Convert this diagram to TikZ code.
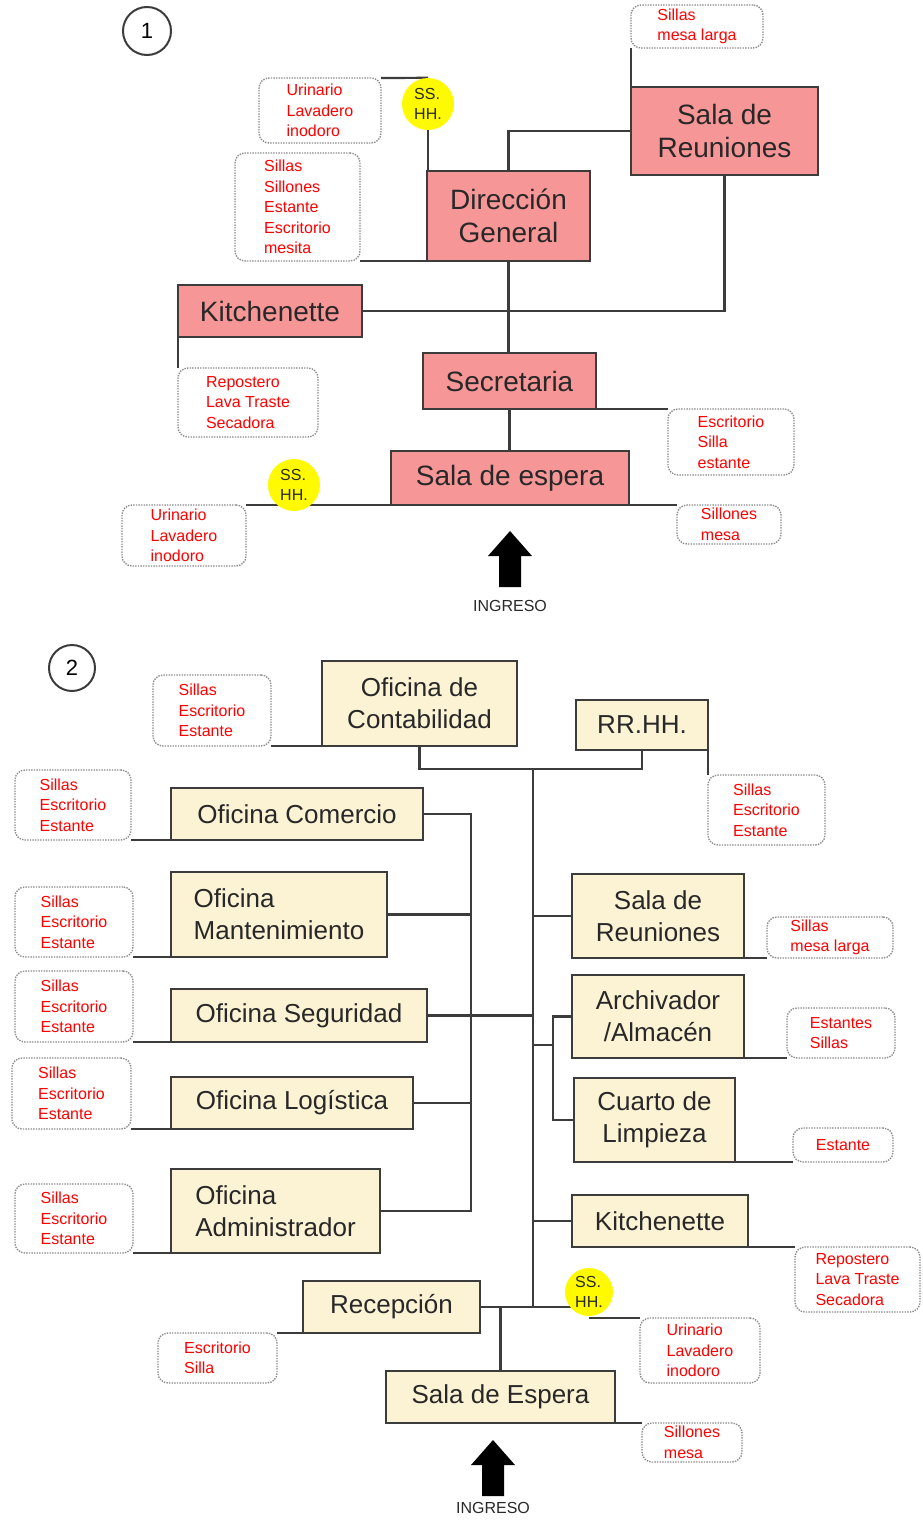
\documentclass[tikz,border=0pt]{standalone}
\usepackage{fontspec}
\setmainfont{Liberation Sans}
\usetikzlibrary{positioning,backgrounds}
\definecolor{rosa}{RGB}{246,150,150}
\definecolor{crema}{RGB}{252,242,212}
\definecolor{amarillo}{RGB}{255,250,0}
\definecolor{linea}{RGB}{60,60,60}
\definecolor{texto}{RGB}{40,40,40}

\begin{document}
\begin{tikzpicture}[x=1pt,y=-1pt]
            \tikzset{
                caja/.style={draw=linea, line width=2pt, anchor=north west, outer sep=0pt, inner sep=0pt, align=center, text=texto},
                sala/.style={caja, fill=rosa, font=\fontsize{28}{33}\selectfont},
                ofi/.style={caja, fill=crema, font=\fontsize{26}{32}\selectfont},
                nota/.style={draw=gray!90, fill=white, line width=1.4pt, dash pattern=on 1.4pt off 1.2pt, rounded corners=10pt, anchor=north west, outer sep=0pt, inner sep=0pt, align=left, text=red, font=\fontsize{16}{20.5}\selectfont},
                hh/.style={circle, fill=amarillo, inner sep=0pt, align=left, text=texto, font=\fontsize{16}{20}\selectfont},
                num/.style={circle, draw=linea, line width=2pt, inner sep=0pt, font=\fontsize{22}{22}\selectfont},
                con/.style={draw=linea, line width=2.2pt},
                ingreso/.style={font=\fontsize{16}{16}\selectfont, text=texto},
                wh/.style 2 args={minimum width=#1pt, minimum height=#2pt},}
            \def\flecha{(0,0) -- (22,25) -- (11,25) -- (11,56) -- (-11,56) -- (-11,25) -- (-22,25) -- cycle}
            \useasboundingbox (0,0) rectangle (922,1520);
            % 1
            \node[num, minimum size=48pt] (uno) at (147,31) {1};
            \node[sala, wh={187}{88}] (sr1) at (631,87) {Sala de\\Reuniones};
            \node[sala, wh={163}{90}] (dg) at (427,171) {Dirección\\General};
            \node[sala, wh={184}{52}] (kit1) at (178,285) {Kitchenette};
            \node[sala, wh={173}{56}] (sec) at (423,353) {Secretaria};
            \node[sala, wh={238}{54}] (esp1) at (391,451) {Sala de espera};
            \node[nota, wh={132}{43}] (n1a) at (631,5) {Sillas\\mesa larga};
            \node[nota, wh={122}{65}] (n1b) at (259,78) {Urinario\\Lavadero\\inodoro};
            \node[nota, wh={125}{108}] (n1c) at (235,153) {Sillas\\Sillones\\Estante\\Escritorio\\mesita};
            \node[nota, wh={140}{69}] (n1d) at (178,368) {Repostero\\Lava Traste\\Secadora};
            \node[nota, wh={126}{66}] (n1e) at (668,409) {Escritorio\\Silla\\estante};
            \node[nota, wh={124}{61}] (n1f) at (122,505) {Urinario\\Lavadero\\inodoro};
            \node[nota, wh={104}{39}] (n1g) at (677,505) {Sillones\\mesa};
            \node[hh, minimum size=52pt] (hh1) at (428,104) {SS.\\HH.};
            \node[hh, minimum size=52pt] (hh2) at (294,485) {SS.\\HH.};
            \fill[shift={(510,531)}] \flecha;
            \node[ingreso] (ing1) at (510,606) {INGRESO};
            % 2
            \node[num, minimum size=46pt] (dos) at (72,668) {2};
            \node[ofi, wh={195}{85}] (cont) at (322,661) {Oficina de\\Contabilidad};
            \node[ofi, wh={132}{50}] (rrhh) at (576,700) {RR.HH.};
            \node[ofi, wh={252}{52}] (com) at (171,788) {Oficina Comercio};
            \node[ofi, wh={216}{85}, align=left] (man) at (171,872) {Oficina\\Mantenimiento};
            \node[ofi, wh={256}{53}] (seg) at (171,989) {Oficina Seguridad};
            \node[ofi, wh={242}{52}] (log) at (171,1077) {Oficina Logística};
            \node[ofi, wh={209}{84}, align=left] (adm) at (171,1169) {Oficina\\Administrador};
            \node[ofi, wh={172}{84}] (sr2) at (572,874) {Sala de\\Reuniones};
            \node[ofi, wh={172}{83}] (arch) at (572,975) {Archivador\\/Almacén};
            \node[ofi, wh={161}{84}] (cuar) at (574,1078) {Cuarto de\\Limpieza};
            \node[ofi, wh={176}{52}] (kit2) at (572,1195) {Kitchenette};
            \node[ofi, wh={177}{52}] (rec) at (303,1281) {Recepción};
            \node[ofi, wh={229}{52}] (esp2) at (386,1371) {Sala de Espera};
            \node[nota, wh={118}{71}] (n2a) at (153,675) {Sillas\\Escritorio\\Estante};
            \node[nota, wh={117}{70}] (n2b) at (708,775) {Sillas\\Escritorio\\Estante};
            \node[nota, wh={116}{70}] (n2c) at (15,770) {Sillas\\Escritorio\\Estante};
            \node[nota, wh={118}{70}] (n2d) at (15,887) {Sillas\\Escritorio\\Estante};
            \node[nota, wh={118}{71}] (n2e) at (15,971) {Sillas\\Escritorio\\Estante};
            \node[nota, wh={119}{71}] (n2f) at (12,1058) {Sillas\\Escritorio\\Estante};
            \node[nota, wh={118}{69}] (n2g) at (15,1184) {Sillas\\Escritorio\\Estante};
            \node[nota, wh={126}{41}] (n2h) at (767,917) {Sillas\\mesa larga};
            \node[nota, wh={108}{50}] (n2i) at (787,1008) {Estantes\\Sillas};
            \node[nota, wh={100}{34}] (n2j) at (793,1128) {Estante};
            \node[nota, wh={125}{65}] (n2k) at (795,1247) {Repostero\\Lava Traste\\Secadora};
            \node[nota, wh={120}{65}] (n2l) at (640,1318) {Urinario\\Lavadero\\inodoro};
            \node[nota, wh={119}{50}] (n2m) at (158,1333) {Escritorio\\Silla};
            \node[nota, wh={100}{39}] (n2n) at (642,1423) {Sillones\\mesa};
            \node[hh, minimum size=48pt] (hh3) at (589,1292) {SS.\\HH.};
            \coordinate (tr1) at (533,769);
            \coordinate (tr2) at (533,1307);
            \coordinate (izq) at (471,814);
            \coordinate (sub) at (553,1045);
            \fill[shift={(493,1440)}] \flecha;
            \node[ingreso] (ing2) at (493,1508) {INGRESO};
            \begin{scope}[on background layer]
                \draw[con] (n1a.south west) -- (sr1.north west);
                \draw[con] (dg.north) |- (sr1.west);
                \draw[con] (n1b.north east) -- (hh1.north);
                \draw[con] (hh1.south) -- (hh1.south |- dg.south) -- (n1c.south east);
                \draw[con] (kit1.east) -| (sr1.south);
                \draw[con] (dg.south) -- (dg.south |- sec.north);
                \draw[con] (kit1.south west) -- (n1d.north west);
                \draw[con] (sec.south) -- (sec.south |- esp1.north);
                \draw[con] (sec.south east) -- (n1e.north west);
                \draw[con] (n1f.north east) -- (n1g.north west);
                % 2
                \draw[con] (n2a.south east) -- (cont.south west);
                \draw[con] (cont.south) |- (tr1) -| (rrhh.south);
                \draw[con] (tr1) -- (tr2);
                \draw[con] (rrhh.south east) -- (n2b.north west);
                \draw[con] (com.east) -| (izq |- adm.east) -- (adm.east);
                \draw[con] (man.east) -- (man.east -| izq);
                \draw[con] (seg.east) -- (seg.east -| tr1);
                \draw[con] (log.east) -- (log.east -| izq);
                \draw[con] (n2c.south east) -- (com.south west);
                \draw[con] (n2d.south east) -- (man.south west);
                \draw[con] (n2e.south east) -- (seg.south west);
                \draw[con] (n2f.south east) -- (log.south west);
                \draw[con] (n2g.south east) -- (adm.south west);
                \draw[con] (sr2.west -| tr1) -- (sr2.west);
                \draw[con] (sub -| tr1) -- (sub);
                \draw[con] (arch.west) -| (sub) |- (cuar.west);
                \draw[con] (sr2.south east) -- (n2h.south west);
                \draw[con] (arch.south east) -- (n2i.south west);
                \draw[con] (cuar.south east) -- (n2j.south west);
                \draw[con] (kit2.west -| tr1) -- (kit2.west);
                \draw[con] (kit2.south east) -- (n2k.north west);
                \draw[con] (rec.east) -- (rec.east -| hh3);
                \draw[con] (esp2.north) -- (esp2.north |- rec.east);
                \draw[con] (hh3 |- n2l.north) -- (n2l.north west);
                \draw[con] (n2m.north east) -- (rec.south west);
                \draw[con] (esp2.south east) -- (n2n.north west);
            \end{scope}
        \end{tikzpicture}
\end{document}
